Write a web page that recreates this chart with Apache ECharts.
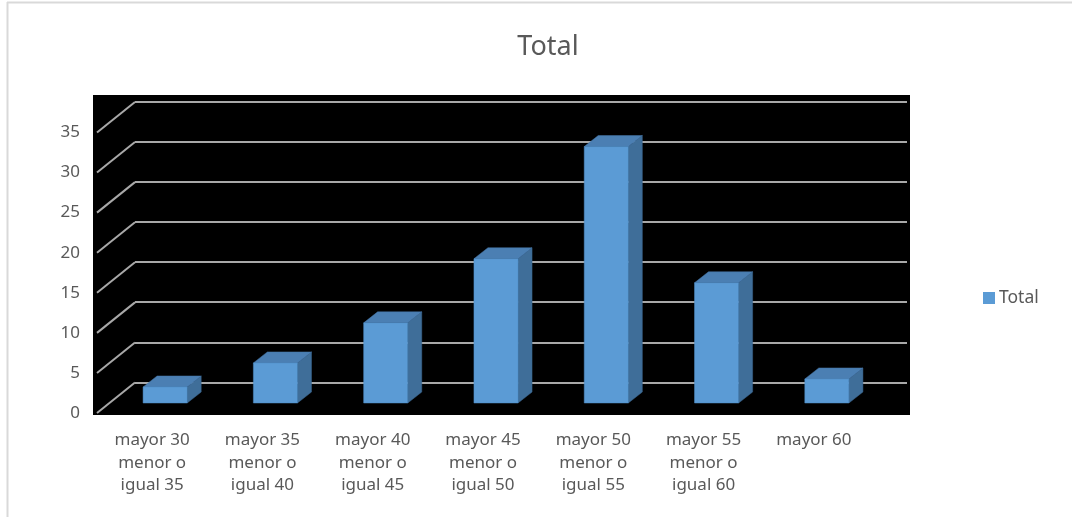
<!DOCTYPE html>
<html>
<head>
<meta charset="utf-8">
<script src="https://cdn.jsdelivr.net/npm/echarts@6/dist/echarts.min.js"></script>
<style>
  html, body { margin: 0; padding: 0; background: #fff; }
  #chart { width: 1072px; height: 517px; }
</style>
</head>
<body>
<div id="chart"></div>
<script>
// Age ranges (categories) and counts
const categories = [
  'mayor 30\nmenor o\nigual 35',
  'mayor 35\nmenor o\nigual 40',
  'mayor 40\nmenor o\nigual 45',
  'mayor 45\nmenor o\nigual 50',
  'mayor 50\nmenor o\nigual 55',
  'mayor 55\nmenor o\nigual 60',
  'mayor 60'
];
const totals = [2, 5, 10, 18, 32, 15, 3];
const yTicks = [0, 5, 10, 15, 20, 25, 30, 35];

const textColor = '#595959';
const gridColor = '#a8a8a8';
const fontFamily = '"Noto Sans", "Open Sans", sans-serif';

// 3D look: depth shift from the front plane to the back wall
const DEPTH_X = 38, DEPTH_Y = -30.5;
// bars stand a bit behind the front plane
const BAR_SHIFT_X = 13, BAR_SHIFT_Y = -10;
const BAR_DEPTH_X = 14, BAR_DEPTH_Y = -11;

const chart = echarts.init(document.getElementById('chart'), null, { renderer: 'canvas' });

function renderBar(params, api) {
  const base = api.coord([api.value(0), 0]);
  const top = api.coord([api.value(0), api.value(1)]);
  const bw = api.size([1, 0])[0] * 0.4;
  const x0 = base[0] - bw / 2 + BAR_SHIFT_X;
  const x1 = x0 + bw;
  const yb = base[1] + BAR_SHIFT_Y;
  const yt = top[1] + BAR_SHIFT_Y;
  return {
    type: 'group',
    children: [
      {
        type: 'polygon',
        shape: { points: [[x1, yb], [x1 + BAR_DEPTH_X, yb + BAR_DEPTH_Y], [x1 + BAR_DEPTH_X, yt + BAR_DEPTH_Y], [x1, yt]] },
        style: { fill: '#3f6e99', stroke: '#3a6690', lineWidth: 0.5 }
      },
      {
        type: 'polygon',
        shape: { points: [[x0, yt], [x1, yt], [x1 + BAR_DEPTH_X, yt + BAR_DEPTH_Y], [x0 + BAR_DEPTH_X, yt + BAR_DEPTH_Y]] },
        style: { fill: '#4b7fb3', stroke: '#4677a8', lineWidth: 0.5 }
      },
      {
        type: 'rect',
        shape: { x: x0, y: yt, width: bw, height: yb - yt },
        style: { fill: '#5b9bd5', stroke: '#4f8cc4', lineWidth: 0.5 }
      }
    ]
  };
}

function renderDiagonal(params, api) {
  const p = api.coord([0, api.value(1)]);
  const x = params.coordSys.x;
  return {
    type: 'line',
    shape: { x1: x, y1: p[1], x2: x + DEPTH_X, y2: p[1] + DEPTH_Y },
    style: { stroke: gridColor, lineWidth: 2 }
  };
}

const option = {
  backgroundColor: '#ffffff',
  animation: false,
  title: {
    text: 'Total',
    left: 543,
    top: 29,
    textAlign: 'center',
    textStyle: { color: textColor, fontSize: 27, fontWeight: 'normal', fontFamily: fontFamily }
  },
  legend: {
    data: ['Total'],
    orient: 'vertical',
    left: 978,
    top: 284,
    icon: 'rect',
    itemWidth: 12,
    itemHeight: 12,
    itemGap: 6,
    textStyle: { color: textColor, fontSize: 17.5, fontFamily: fontFamily, padding: [0, 0, 0, -1] }
  },
  graphic: [
    { type: 'line', shape: { x1: 7, y1: 2.5, x2: 1072, y2: 2.5 }, style: { stroke: '#d9d9d9', lineWidth: 2 }, z: 100 },
    { type: 'line', shape: { x1: 7.5, y1: 2, x2: 7.5, y2: 517 }, style: { stroke: '#d9d9d9', lineWidth: 2 }, z: 100 }
  ],
  grid: [
    // black backdrop
    { left: 93, top: 95, width: 817, height: 320, show: true, backgroundColor: '#000000', borderWidth: 0 },
    // back wall
    { left: 135, top: 101.5, width: 772, height: 281 },
    // front plane
    { left: 97, top: 132.5, width: 772, height: 280.5 }
  ],
  xAxis: [
    { gridIndex: 0, type: 'category', data: categories, show: false },
    { gridIndex: 1, type: 'category', data: categories, show: false },
    {
      gridIndex: 2, type: 'category', data: categories,
      axisLine: { show: false }, axisTick: { show: false },
      axisLabel: {
        interval: 0, margin: 16, color: textColor, fontSize: 17,
        lineHeight: 22.5, fontFamily: fontFamily, align: 'center'
      }
    }
  ],
  yAxis: [
    { gridIndex: 0, type: 'value', show: false, min: 0, max: 35 },
    {
      gridIndex: 1, type: 'value', min: 0, max: 35, interval: 5,
      axisLine: { show: false }, axisTick: { show: false }, axisLabel: { show: false },
      splitLine: { show: true, lineStyle: { color: gridColor, width: 2 } }
    },
    {
      gridIndex: 2, type: 'value', min: 0, max: 35, interval: 5,
      axisLine: { show: false }, axisTick: { show: false },
      splitLine: { show: false },
      axisLabel: { margin: 17, color: textColor, fontSize: 17, fontFamily: fontFamily }
    }
  ],
  series: [
    {
      name: 'Diagonales',
      type: 'custom',
      xAxisIndex: 2, yAxisIndex: 2,
      renderItem: renderDiagonal,
      data: yTicks.map(v => [0, v]),
      silent: true,
      z: 1
    },
    {
      name: 'Total',
      type: 'custom',
      xAxisIndex: 2, yAxisIndex: 2,
      renderItem: renderBar,
      itemStyle: { color: '#5b9bd5' },
      data: totals.map((v, i) => [i, v]),
      z: 3
    }
  ]
};

chart.setOption(option);
</script>
</body>
</html>
